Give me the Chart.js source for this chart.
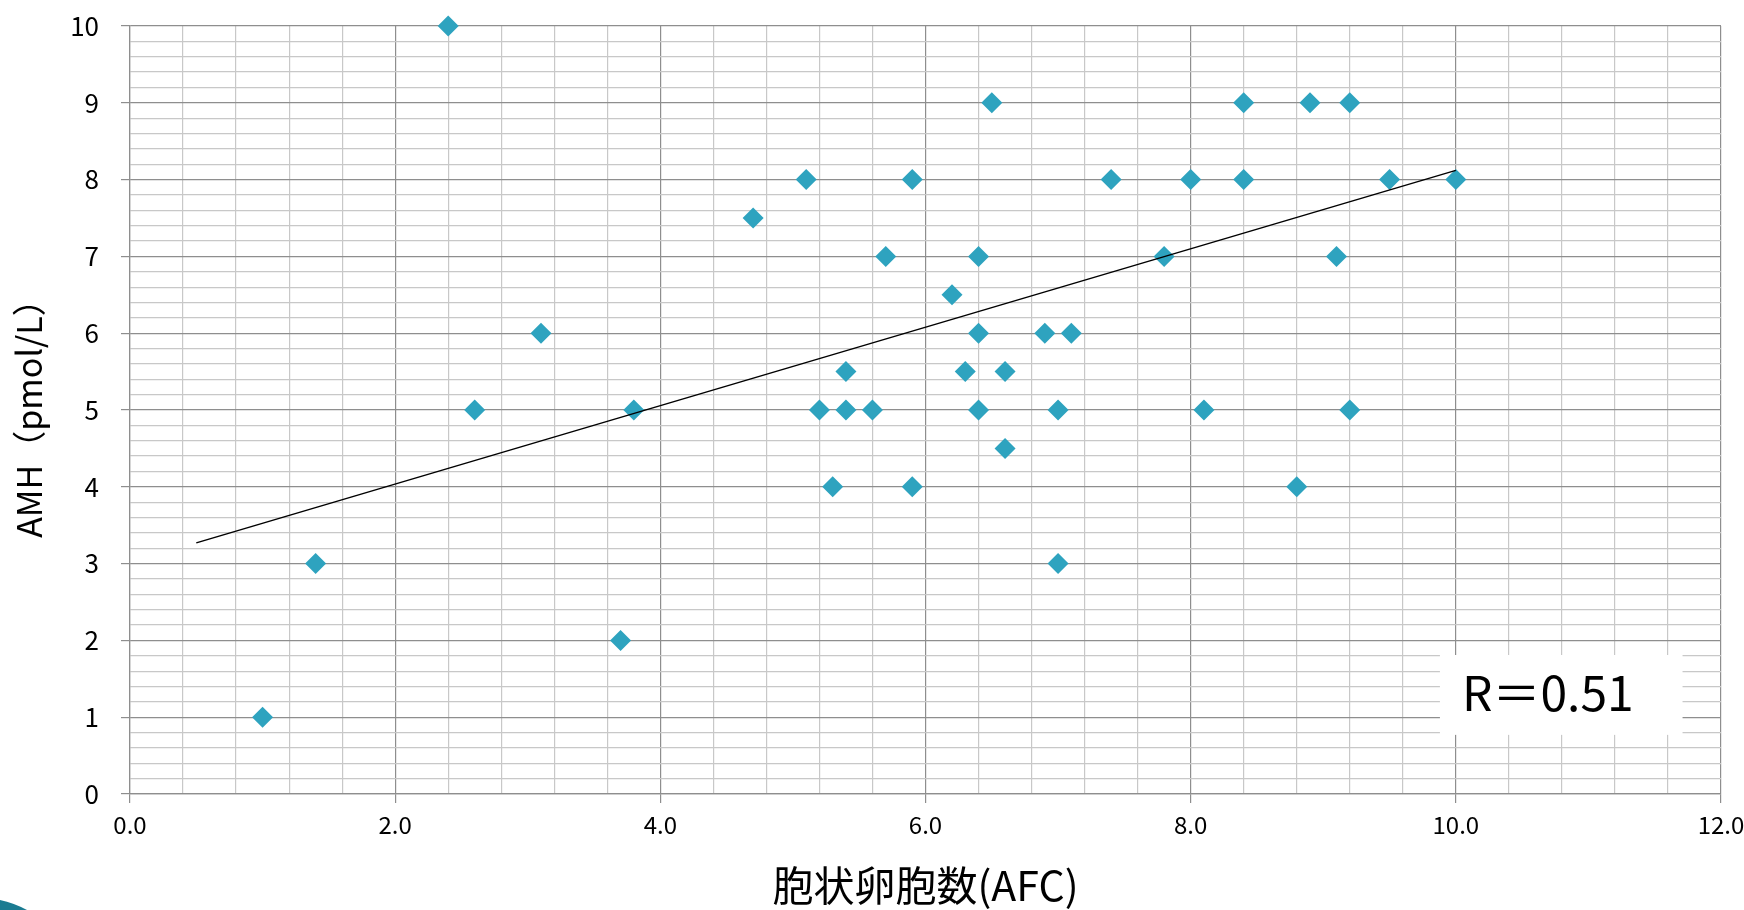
<!DOCTYPE html>
<html>
<head>
<meta charset="utf-8">
<script src="https://cdn.jsdelivr.net/npm/chart.js@4.4.0/dist/chart.umd.min.js"></script>
<style>
html, body { margin: 0; padding: 0; background: #ffffff; }
#wrap { width: 1744px; height: 910px; position: relative; }
</style>
</head>
<body>
<div id="wrap"><canvas id="c" width="1744" height="910"></canvas></div>
<script>
// ---- data ----
const afcValues = [2.4, 6.5, 8.4, 8.9, 9.2,
                   5.1, 5.9, 7.4, 8.0, 8.4, 9.5, 10.0,
                   4.7,
                   5.7, 6.4, 7.8, 9.1,
                   6.2,
                   3.1, 6.4, 6.9, 7.1,
                   5.4, 6.3, 6.6,
                   2.6, 3.8, 5.2, 5.4, 5.6, 6.4, 7.0, 8.1, 9.2,
                   6.6,
                   5.3, 5.9, 8.8,
                   1.4, 7.0,
                   3.7,
                   1.0];
const amhValues = [10, 9, 9, 9, 9,
                   8, 8, 8, 8, 8, 8, 8,
                   7.5,
                   7, 7, 7, 7,
                   6.5,
                   6, 6, 6, 6,
                   5.5, 5.5, 5.5,
                   5, 5, 5, 5, 5, 5, 5, 5, 5,
                   4.5,
                   4, 4, 4,
                   3, 3,
                   2,
                   1];
const trendX = [0.5, 10.0];
const trendY = [3.27, 8.12];
const xTickLabelStep = 2;      // labelled x ticks: 0.0, 2.0, ... 12.0
const yTickLabelStep = 1;      // labelled y ticks: 0 ... 10
const xTitle = '胞状卵胞数(AFC)';
const yTitle = 'AMH（pmol/L）';
const rLabel = 'R＝0.51';

// ---- styling ----
const FONT = '"Noto Sans CJK JP", "Noto Sans", sans-serif';
const MARK = '#2ea3bf';
const MAJOR = '#8e8e8e';
const MINOR = '#c8c8c8';
const rBoxArea = { x0: 9.88, x1: 11.71, yTop: 1.81, yBottom: 0.77 };

function isMajor(v, step) {
  return Math.abs(v / step - Math.round(v / step)) < 1e-6;
}

const points = afcValues.map((x, i) => ({ x: x, y: amhValues[i] }));
const trend = trendX.map((x, i) => ({ x: x, y: trendY[i] }));

const extras = {
  id: 'extras',
  afterDraw(chart) {
    const ctx = chart.ctx;
    const xs = chart.scales.x, ys = chart.scales.y;
    // R annotation box
    const l = xs.getPixelForValue(rBoxArea.x0), r = xs.getPixelForValue(rBoxArea.x1);
    const t = ys.getPixelForValue(rBoxArea.yTop), b = ys.getPixelForValue(rBoxArea.yBottom);
    ctx.save();
    ctx.fillStyle = '#ffffff';
    ctx.fillRect(l, t, r - l, b - t);
    ctx.fillStyle = '#000000';
    ctx.font = '48px ' + FONT;
    ctx.textAlign = 'left';
    ctx.textBaseline = 'middle';
    ctx.fillText(rLabel, l + 22, (t + b) / 2 - 2);
    // slide decoration, bottom-left corner
    ctx.fillStyle = '#1a7b91';
    ctx.beginPath();
    ctx.moveTo(0, 900);
    ctx.quadraticCurveTo(14, 903, 27, 910);
    ctx.lineTo(0, 910);
    ctx.closePath();
    ctx.fill();
    ctx.restore();
  }
};

new Chart(document.getElementById('c'), {
  type: 'scatter',
  data: {
    datasets: [
      {
        label: 'trend',
        data: trend,
        showLine: true,
        borderColor: '#000000',
        borderWidth: 1.5,
        pointRadius: 0,
        pointHoverRadius: 0,
        fill: false,
        order: 0
      },
      {
        label: 'AMH',
        data: points,
        pointStyle: 'rectRot',
        pointRadius: 10.5,
        pointHoverRadius: 10.5,
        backgroundColor: MARK,
        borderColor: MARK,
        borderWidth: 0,
        clip: false,
        order: 1
      }
    ]
  },
  options: {
    responsive: false,
    animation: false,
    devicePixelRatio: 1,
    events: [],
    layout: { padding: { left: 0, top: 26, right: 23, bottom: 0 } },
    plugins: { legend: { display: false }, tooltip: { enabled: false }, title: { display: false } },
    scales: {
      x: {
        type: 'linear',
        min: 0, max: 12,
        afterFit(scale) { scale.height = 116; scale.paddingLeft = 0; scale.paddingRight = 0; },
        ticks: {
          stepSize: 0.4,
          autoSkip: false,
          maxRotation: 0, minRotation: 0,
          padding: 7,
          color: '#000000',
          font: { family: FONT, size: 24 },
          callback: (v) => isMajor(v, xTickLabelStep) ? Number(v).toFixed(1) : ''
        },
        grid: {
          color: (c) => isMajor(c.tick.value, xTickLabelStep) ? MAJOR : MINOR,
          tickColor: (c) => isMajor(c.tick.value, xTickLabelStep) ? MAJOR : 'rgba(0,0,0,0)',
          tickLength: 9,
          lineWidth: 1.2
        },
        border: { color: MAJOR, width: 1.2 },
        title: {
          display: true,
          text: xTitle,
          color: '#000000',
          font: { family: FONT, size: 41 },
          padding: { top: 0, bottom: 0 }
        }
      },
      y: {
        type: 'linear',
        min: 0, max: 10,
        afterFit(scale) { scale.width = 130; scale.paddingTop = 0; scale.paddingBottom = 0; },
        ticks: {
          stepSize: 0.2,
          autoSkip: false,
          padding: 22,
          color: '#000000',
          font: { family: FONT, size: 26 },
          callback: (v) => isMajor(v, yTickLabelStep) ? String(Math.round(v)) : ''
        },
        grid: {
          color: (c) => isMajor(c.tick.value, yTickLabelStep) ? MAJOR : MINOR,
          tickColor: (c) => isMajor(c.tick.value, yTickLabelStep) ? MAJOR : 'rgba(0,0,0,0)',
          tickLength: 9,
          lineWidth: 1.2
        },
        border: { color: MAJOR, width: 1.2 },
        title: {
          display: true,
          text: yTitle,
          color: '#000000',
          font: { family: FONT, size: 34 },
          padding: { top: 9, bottom: 0 }
        }
      }
    }
  },
  plugins: [extras]
});
</script>
</body>
</html>
